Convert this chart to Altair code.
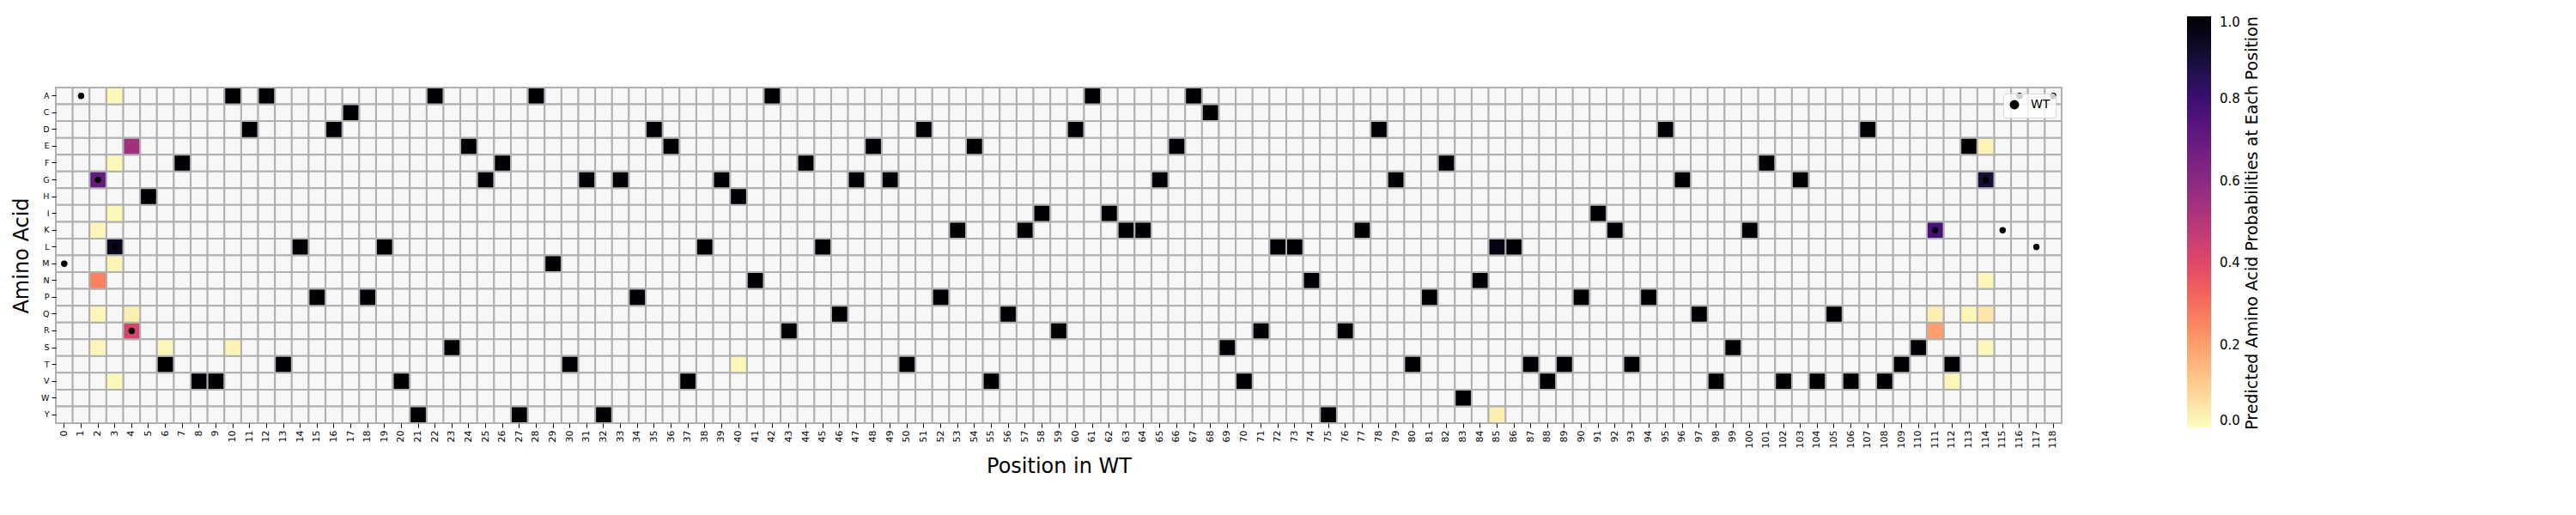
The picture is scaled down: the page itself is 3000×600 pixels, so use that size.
import altair as alt
import pandas as pd

amino_acids = ["A", "C", "D", "E", "F", "G", "H", "I", "K", "L",
               "M", "N", "P", "Q", "R", "S", "T", "V", "W", "Y"]
positions = list(range(119))

# dominant (probability ~1) amino acid at positions 5..110, then 112, 113
dominant_pos = list(range(5, 111)) + [112, 113]
dominant_aa = (list("HTFVVADATL") + list("PDCPLVYASE") + list("GFYAMTGYGP") +
               list("DEVLGHNARF") + list("LQGEGTDPKE") + list("VQKIRDAIKK") +
               list("GEACSVRLLN") + list("YRKDGTPFWN") + list("LLTVTPIKTP") +
               list("DGQVSKFVGV") + list("QVDVTS") + ["T", "E"])

# cells with mixed probabilities
mixed_pos = [2, 2, 2, 2, 2,
             3, 3, 3, 3, 3, 3,
             4, 4, 4,
             6, 10, 40, 85, 85, 112, 113,
             111, 111, 111,
             114, 114, 114, 114, 114]
mixed_aa = ["G", "N", "K", "Q", "S",
            "L", "M", "A", "F", "I", "V",
            "E", "R", "Q",
            "S", "S", "T", "L", "Y", "V", "Q",
            "K", "R", "Q",
            "G", "Q", "E", "N", "S"]
mixed_prob = [0.70, 0.26, 0.012, 0.012, 0.012,
              0.94, 0.02, 0.01, 0.01, 0.01, 0.01,
              0.55, 0.42, 0.03,
              0.01, 0.02, 0.015, 0.97, 0.03, 0.015, 0.015,
              0.77, 0.20, 0.03,
              0.90, 0.05, 0.02, 0.015, 0.015]

wt_pos = [0, 1, 2, 3, 4, 111, 114, 115, 116, 117, 118]
wt_aa = ["M", "A", "G", "L", "R", "K", "G", "K", "A", "L", "A"]

colorbar_title = "Predicted Amino Acid Probabilities at Each Position"
colorbar_ticks = [0.0, 0.2, 0.4, 0.6, 0.8, 1.0]

# ---- tables ----
grid_df = pd.DataFrame([(p, a) for p in positions for a in amino_acids], columns=["pos", "aa"])
dom_df = pd.DataFrame({"pos": dominant_pos, "aa": dominant_aa, "prob": 1.0})
mix_df = pd.DataFrame({"pos": mixed_pos, "aa": mixed_aa, "prob": mixed_prob})
cells_df = pd.concat([dom_df, mix_df]).drop_duplicates(subset=["pos", "aa"], keep="last")
wt_df = pd.DataFrame({"pos": wt_pos, "aa": wt_aa, "label": "WT"})

FONT = "DejaVu Sans"
GRID = "#b0b0b0"

x_enc = alt.X(
    "pos:O",
    scale=alt.Scale(domain=positions, paddingInner=0, paddingOuter=0),
    axis=alt.Axis(title="Position in WT", labelAngle=270, labelFontSize=11, labelPadding=3,
                  tickSize=5, tickColor="black", tickWidth=1, domain=False, grid=False,
                  titleFontSize=24, titleFontWeight="normal", titlePadding=10,
                  labelColor="black", titleColor="black", labelFont=FONT, titleFont=FONT),
)
y_enc = alt.Y(
    "aa:N",
    scale=alt.Scale(domain=amino_acids, paddingInner=0, paddingOuter=0),
    axis=alt.Axis(title="Amino Acid", labelFontSize=9.5, labelPadding=3,
                  tickSize=5, tickColor="black", tickWidth=1, domain=False, grid=False,
                  titleFontSize=24, titleFontWeight="normal", titlePadding=10,
                  labelColor="black", titleColor="black", labelFont=FONT, titleFont=FONT),
)

bg = alt.Chart(grid_df).mark_rect(fill="#f7f7f7", stroke=GRID, strokeWidth=2).encode(x=x_enc, y=y_enc)

heat = alt.Chart(cells_df).mark_rect(stroke=GRID, strokeWidth=2).encode(
    x="pos:O",
    y="aa:N",
    color=alt.Color(
        "prob:Q",
        scale=alt.Scale(scheme="magma", reverse=True, domain=[0, 1]),
        legend=alt.Legend(title=None, orient="none", legendX=2482, legendY=-83,
                          direction="vertical", gradientLength=479, gradientThickness=28,
                          values=colorbar_ticks, format=".1f", labelFontSize=15,
                          labelOffset=10, labelColor="black", labelFont=FONT,
                          gradientStrokeWidth=0),
    ),
)

wt = alt.Chart(wt_df).mark_point(filled=True, size=55, color="black", opacity=1).encode(
    x="pos:O",
    y="aa:N",
    shape=alt.Shape(
        "label:N",
        scale=alt.Scale(range=["circle"]),
        legend=alt.Legend(title=None, orient="top-right", offset=7,
                          fillColor="rgba(255,255,255,0.8)", strokeColor="#d9d9d9",
                          cornerRadius=4, padding=6, symbolSize=120, labelFontSize=14,
                          symbolFillColor="black", symbolStrokeColor="black",
                          labelColor="black", labelFont=FONT, labelOffset=12),
    ),
)

cbar_title = alt.Chart(pd.DataFrame({"t": [colorbar_title]})).mark_text(
    angle=270, fontSize=19, font=FONT, color="black", align="center", baseline="middle"
).encode(text="t:N", x=alt.value(2558), y=alt.value(158))

chart = alt.layer(bg, heat, wt, cbar_title).properties(
    width=2336, height=391,
    autosize=alt.AutoSizeParams(type="none"),
    padding={"left": 57, "top": 94, "right": 260, "bottom": 100},
).configure(font=FONT).configure_view(stroke=None).configure_legend(
    gradientVerticalMaxLength=600
)

chart.save("out.html", embed_options={"renderer": "svg", "actions": False})
